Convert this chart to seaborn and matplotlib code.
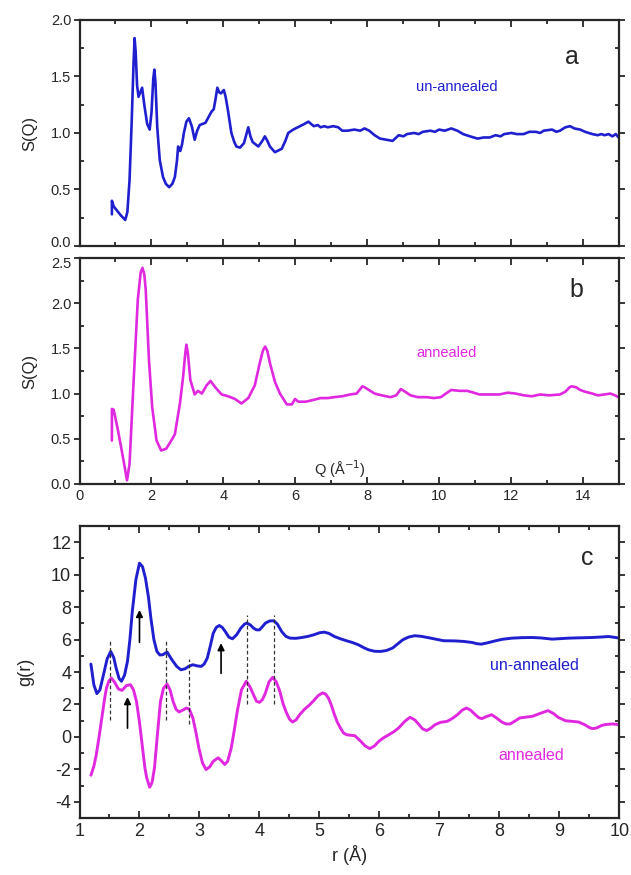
import numpy as np
import pandas as pd
import matplotlib
matplotlib.use("Agg")
import matplotlib.pyplot as plt
import matplotlib.transforms as mtransforms
from matplotlib.ticker import MultipleLocator, FormatStrFormatter
import seaborn as sns

# ---------------- data ----------------
q_un = [0.90, 0.90, 0.95, 1.05, 1.15, 1.27, 1.33, 1.39, 1.45, 1.50, 1.53, 1.56, 1.60, 1.64, 1.69, 1.74, 1.80,
        1.88, 1.95, 2.00, 2.05, 2.08, 2.11, 2.16, 2.23, 2.32, 2.40, 2.49, 2.58, 2.65, 2.71, 2.74, 2.80, 2.85,
        2.90, 2.97, 3.04, 3.12, 3.20, 3.27, 3.34, 3.42, 3.50, 3.60, 3.67, 3.73, 3.78, 3.83, 3.88, 3.93, 4.01,
        4.06, 4.12, 4.22, 4.30, 4.36, 4.46, 4.57, 4.64, 4.69, 4.75, 4.81, 4.97, 5.08, 5.15, 5.22, 5.29, 5.43,
        5.62, 5.72, 5.80, 5.94, 6.13, 6.25, 6.36, 6.51, 6.62, 6.70, 6.80, 6.90, 7.05, 7.19, 7.30, 7.45, 7.64,
        7.80, 7.92, 8.05, 8.20, 8.35, 8.53, 8.70, 8.87, 9.00, 9.10, 9.30, 9.42, 9.54, 9.75, 9.88, 9.99, 10.15,
        10.33, 10.50, 10.66, 10.85, 11.06, 11.23, 11.40, 11.56, 11.70, 11.80, 12.00, 12.15, 12.34, 12.50,
        12.68, 12.80, 12.90, 13.13, 13.25, 13.35, 13.50, 13.63, 13.75, 13.91, 14.05, 14.25, 14.40, 14.50,
        14.59, 14.70, 14.81, 14.90, 14.98]
s_un = [0.28, 0.40, 0.35, 0.31, 0.27, 0.23, 0.30, 0.58, 1.10, 1.60, 1.84, 1.72, 1.42, 1.32, 1.36, 1.40, 1.25,
        1.08, 1.03, 1.18, 1.48, 1.56, 1.45, 1.05, 0.76, 0.61, 0.55, 0.52, 0.55, 0.61, 0.76, 0.88, 0.84, 0.90,
        1.00, 1.10, 1.13, 1.06, 0.94, 1.02, 1.07, 1.08, 1.09, 1.15, 1.19, 1.21, 1.30, 1.40, 1.36, 1.35, 1.38,
        1.32, 1.21, 1.00, 0.92, 0.88, 0.87, 0.91, 0.99, 1.05, 0.97, 0.92, 0.88, 0.93, 0.97, 0.93, 0.88, 0.83,
        0.86, 0.93, 1.00, 1.03, 1.06, 1.08, 1.10, 1.06, 1.07, 1.05, 1.06, 1.05, 1.06, 1.05, 1.02, 1.02, 1.03,
        1.02, 1.04, 1.02, 0.98, 0.95, 0.94, 0.93, 0.98, 0.97, 0.99, 1.00, 0.99, 1.01, 1.02, 1.01, 1.03, 1.02,
        1.04, 1.02, 0.99, 0.97, 0.95, 0.96, 0.96, 0.98, 0.97, 0.99, 1.00, 0.99, 0.99, 1.01,
        1.01, 1.00, 1.02, 1.03, 1.01, 1.02, 1.05, 1.06, 1.04, 1.03, 1.01, 0.99, 0.98, 0.99,
        0.98, 0.99, 0.97, 0.99, 0.96]

q_an = [0.90, 0.90, 0.95, 1.07, 1.21, 1.32, 1.39, 1.50, 1.62, 1.70, 1.75, 1.80, 1.84, 1.93, 2.02, 2.14, 2.27,
        2.41, 2.55, 2.65, 2.79, 2.88, 2.94, 2.97, 3.01, 3.08, 3.20, 3.29, 3.40, 3.53, 3.64, 3.79, 3.95, 4.13,
        4.32, 4.50, 4.69, 4.87, 5.01, 5.10, 5.16, 5.22, 5.29, 5.43, 5.57, 5.76, 5.90, 5.99, 6.08, 6.29, 6.50,
        6.70, 6.90, 7.07, 7.30, 7.52, 7.70, 7.80, 7.86, 7.92, 8.00, 8.20, 8.40, 8.64, 8.80, 8.93, 9.05, 9.20,
        9.40, 9.65, 9.85, 10.04, 10.18, 10.33, 10.55, 10.77, 10.95, 11.11, 11.40, 11.67, 11.90, 12.12, 12.35,
        12.57, 12.80, 13.05, 13.35, 13.50, 13.62, 13.67, 13.80, 13.91, 14.05, 14.25, 14.40, 14.59, 14.75,
        14.88, 14.98]
s_an = [0.48, 0.83, 0.82, 0.59, 0.29, 0.04, 0.22, 1.11, 2.04, 2.34, 2.39, 2.32, 2.15, 1.37, 0.85, 0.48, 0.37,
        0.39, 0.48, 0.55, 0.89, 1.19, 1.45, 1.54, 1.45, 1.15, 0.99, 1.03, 1.00, 1.09, 1.14, 1.06, 0.99, 0.97,
        0.94, 0.89, 0.95, 1.09, 1.34, 1.48, 1.52, 1.47, 1.34, 1.13, 1.00, 0.88, 0.88, 0.94, 0.91, 0.91, 0.93,
        0.95, 0.95, 0.96, 0.97, 0.99, 1.00, 1.05, 1.08, 1.07, 1.05, 1.00, 0.98, 0.96, 0.98, 1.05, 1.02, 0.98,
        0.96, 0.96, 0.95, 0.96, 1.00, 1.04, 1.03, 1.03, 1.01, 0.99, 0.99, 0.99, 1.01, 1.00, 0.98,
        0.97, 0.99, 0.98, 0.99, 1.02, 1.07, 1.08, 1.07, 1.04, 1.02, 1.00, 0.98, 0.99, 1.00,
        0.98, 0.96]

r_un = [1.19, 1.24, 1.29, 1.34, 1.40, 1.46, 1.52, 1.57, 1.61, 1.66, 1.70, 1.75, 1.80, 1.84, 1.88, 1.94, 2.00,
        2.05, 2.10, 2.15, 2.19, 2.24, 2.29, 2.34, 2.39, 2.46, 2.54, 2.62, 2.69, 2.76, 2.82, 2.89, 2.96, 3.03,
        3.08, 3.13, 3.18, 3.23, 3.28, 3.33, 3.38, 3.43, 3.49, 3.55, 3.62, 3.69, 3.75, 3.79, 3.85, 3.90, 3.95,
        4.00, 4.05, 4.10, 4.17, 4.24, 4.30, 4.37, 4.44, 4.51, 4.61, 4.71, 4.81, 4.91, 5.00, 5.08, 5.16, 5.25,
        5.35, 5.45, 5.55, 5.65, 5.74, 5.82, 5.92, 6.02, 6.12, 6.22, 6.30, 6.39, 6.49, 6.59, 6.70, 6.80, 6.95,
        7.07, 7.25, 7.40, 7.55, 7.62, 7.70, 7.80, 7.94, 8.05, 8.21, 8.38, 8.55, 8.70, 8.88, 9.02, 9.15, 9.35,
        9.55, 9.70, 9.82, 9.92, 10.0]
g_un = [4.49, 3.20, 2.67, 2.90, 3.84, 4.80, 5.27, 4.90, 4.25, 3.60, 3.43, 3.80, 4.66, 6.00, 7.73, 9.70, 10.71,
        10.50, 9.78, 8.60, 7.32, 6.00, 5.27, 5.05, 5.07, 5.23, 4.76, 4.35, 4.14, 4.20, 4.35, 4.45, 4.38, 4.35,
        4.50, 4.86, 5.60, 6.40, 6.75, 6.87, 6.75, 6.50, 6.15, 6.05, 6.30, 6.71, 6.95, 7.02, 6.90, 6.71, 6.60,
        6.60, 6.80, 7.02, 7.15, 7.16, 6.95, 6.50, 6.20, 6.09, 6.08, 6.13, 6.20, 6.30, 6.42, 6.46, 6.38, 6.19,
        6.05, 5.93, 5.82, 5.68, 5.50, 5.37, 5.28, 5.27, 5.33, 5.48, 5.72, 5.99, 6.16, 6.24, 6.20, 6.13, 6.02,
        5.93, 5.92, 5.89, 5.82, 5.75, 5.72, 5.80, 5.93, 6.02, 6.09, 6.12, 6.13, 6.10, 6.03, 6.06, 6.09, 6.11,
        6.13, 6.16, 6.19, 6.14, 6.09]

r_an = [1.19, 1.24, 1.28, 1.33, 1.38, 1.42, 1.45, 1.49, 1.53, 1.58, 1.65, 1.71, 1.78, 1.85, 1.90, 1.95, 2.00,
        2.05, 2.09, 2.12, 2.17, 2.21, 2.25, 2.30, 2.35, 2.40, 2.46, 2.51, 2.56, 2.61, 2.66, 2.72, 2.78, 2.83,
        2.89, 2.94, 2.99, 3.05, 3.11, 3.17, 3.23, 3.31, 3.36, 3.42, 3.47, 3.53, 3.58, 3.63, 3.70, 3.78, 3.84,
        3.90, 3.95, 4.00, 4.05, 4.10, 4.16, 4.22, 4.28, 4.34, 4.39, 4.44, 4.50, 4.55, 4.61, 4.67, 4.75, 4.84,
        4.92, 4.98, 5.05, 5.10, 5.15, 5.20, 5.25, 5.30, 5.35, 5.40, 5.45, 5.52, 5.59, 5.64, 5.69, 5.76, 5.84,
        5.92, 5.99, 6.07, 6.16, 6.24, 6.32, 6.42, 6.51, 6.59, 6.66, 6.72, 6.79, 6.86, 6.93, 7.02, 7.13, 7.22,
        7.30, 7.38, 7.45, 7.52, 7.60, 7.66, 7.71, 7.78, 7.87, 7.96, 8.04, 8.11, 8.18, 8.26, 8.34, 8.45, 8.55,
        8.68, 8.81, 8.90, 8.98, 9.10, 9.22, 9.32, 9.42, 9.50, 9.55, 9.62, 9.70, 9.76, 9.88, 10.0]
g_an = [-2.36, -1.80, -1.09, 0.10, 1.37, 2.40, 3.02, 3.45, 3.63, 3.40, 2.95, 2.87, 3.16, 3.22, 2.90, 2.19,
        0.90, -0.68, -1.90, -2.52, -3.10, -2.80, -1.91, 0.20, 2.19, 3.00, 3.26, 2.90, 2.19, 1.70, 1.54, 1.65,
        1.78, 1.72, 1.17, 0.30, -0.68, -1.60, -2.01, -1.85, -1.50, -1.29, -1.45, -1.70, -1.50, -0.68, 0.40,
        1.58, 2.90, 3.43, 3.10, 2.61, 2.20, 2.13, 2.30, 2.71, 3.40, 3.67, 3.40, 2.81, 2.10, 1.58, 1.10, 0.92,
        1.05, 1.37, 1.70, 1.99, 2.30, 2.55, 2.71, 2.65, 2.40, 1.95, 1.37, 0.90, 0.55, 0.25, 0.14, 0.10, 0.08,
        -0.10, -0.27, -0.55, -0.72, -0.55, -0.27, -0.05, 0.14, 0.32, 0.55, 0.95, 1.21, 1.05, 0.76, 0.50, 0.39,
        0.55, 0.76, 0.90, 0.96, 1.15, 1.37, 1.65, 1.78, 1.65, 1.37, 1.18, 1.13, 1.25, 1.37, 1.15, 0.92, 0.80,
        0.80, 0.98, 1.17, 1.22, 1.27, 1.45, 1.62, 1.45, 1.21, 1.00, 0.96, 0.92, 0.76, 0.58, 0.51, 0.55, 0.70,
        0.76, 0.80, 0.76]

# dashed guide lines: r position, lower g, upper g
dash_r = [1.51, 2.45, 2.83, 3.79, 4.24]
dash_lo = [1.03, 1.03, 0.78, 2.05, 2.05]
dash_hi = [6.01, 6.01, 4.82, 7.50, 7.50]

# arrows: r position, tail g, head g
arrow_r = [2.00, 1.80, 3.36]
arrow_tail = [5.66, 0.37, 3.75]
arrow_head = [8.00, 2.63, 5.95]

BLUE = "#1f1fcf"
MAG = "#e028e0"

# ---------------- style ----------------
sns.set_style("ticks")
plt.rcParams['font.family'] = ['Liberation Sans', 'DejaVu Sans']
plt.rcParams['axes.unicode_minus'] = False
plt.rcParams['axes.linewidth'] = 1.6
plt.rcParams['lines.solid_joinstyle'] = 'round'

fig = plt.figure(figsize=(6.31, 8.75), dpi=100)
ax_a = fig.add_axes([0.126, 0.7189, 0.8555, 0.2583])
ax_b = fig.add_axes([0.126, 0.4469, 0.8555, 0.2583])
ax_c = fig.add_axes([0.126, 0.0651, 0.8555, 0.3337])

df_a = pd.DataFrame({"Q": q_un, "S": s_un})
df_b = pd.DataFrame({"Q": q_an, "S": s_an})
df_cu = pd.DataFrame({"r": r_un, "g": g_un})
df_ca = pd.DataFrame({"r": r_an, "g": g_an})

sns.lineplot(data=df_a, x="Q", y="S", ax=ax_a, color=BLUE, lw=1.9, sort=False, estimator=None)
sns.lineplot(data=df_b, x="Q", y="S", ax=ax_b, color=MAG, lw=1.9, sort=False, estimator=None)
sns.lineplot(data=df_cu, x="r", y="g", ax=ax_c, color=BLUE, lw=2.1, sort=False, estimator=None)
sns.lineplot(data=df_ca, x="r", y="g", ax=ax_c, color=MAG, lw=2.1, sort=False, estimator=None)

for r, lo, hi in zip(dash_r, dash_lo, dash_hi):
    ax_c.plot([r, r], [lo, hi], ls=(0, (3, 2)), color="#333333", lw=0.9)
for r, t, h in zip(arrow_r, arrow_tail, arrow_head):
    ax_c.annotate("", xy=(r, h), xytext=(r, t),
                  arrowprops=dict(arrowstyle="-|>", color="black", lw=1.2, mutation_scale=10))

# axes setup
for ax in (ax_a, ax_b):
    ax.set_xlim(0, 15)
    ax.xaxis.set_major_locator(MultipleLocator(2))
    ax.xaxis.set_minor_locator(MultipleLocator(1))
    ax.set_yticks([0, 0.5, 1.0, 1.5, 2.0] if ax is ax_a else [0, 0.5, 1.0, 1.5, 2.0, 2.5])
    ax.yaxis.set_minor_locator(MultipleLocator(0.25))
    ax.yaxis.set_major_formatter(FormatStrFormatter('%.1f'))
    ax.set_ylabel("S(Q)", fontsize=12, labelpad=10)
    ax.set_xlabel("")
ax_a.set_ylim(0, 2.0)
ax_b.set_ylim(0, 2.5)
ax_a.tick_params(axis='x', labelbottom=False)

ax_c.set_xlim(1, 10)
ax_c.set_ylim(-5, 13)
ax_c.xaxis.set_major_locator(MultipleLocator(1))
ax_c.xaxis.set_minor_locator(MultipleLocator(0.5))
ax_c.set_yticks([-4, -2, 0, 2, 4, 6, 8, 10, 12])
ax_c.yaxis.set_minor_locator(MultipleLocator(1))
ax_c.set_ylabel("g(r)", fontsize=13, labelpad=12)
ax_c.set_xlabel("r (Å)", fontsize=13, labelpad=4)

for ax, fs in ((ax_a, 10.5), (ax_b, 10.5), (ax_c, 13)):
    for s in ax.spines.values():
        s.set_visible(True)
        s.set_linewidth(1.6)
    ax.tick_params(axis='both', which='both', top=True, right=True, labelsize=fs, width=1.3)
    ax.tick_params(axis='x', which='major', direction='in', length=5)
    ax.tick_params(axis='x', which='minor', direction='in', length=3)
    ax.tick_params(axis='y', which='major', direction='out', length=4, pad=2)
    ax.tick_params(axis='y', which='minor', direction='in', length=3)

# nudge the two touching tick labels at the panel a/b junction apart
fig.canvas.draw()
lab_a0 = ax_a.yaxis.get_major_ticks()[0].label1
lab_a0.set_transform(lab_a0.get_transform() + mtransforms.ScaledTranslation(0, 3.0 / 72, fig.dpi_scale_trans))
lab_b_top = ax_b.yaxis.get_major_ticks()[-1].label1
lab_b_top.set_transform(lab_b_top.get_transform() + mtransforms.ScaledTranslation(0, -3.0 / 72, fig.dpi_scale_trans))

# texts
ax_a.text(13.68, 1.67, "a", fontsize=18, ha='center', va='center')
ax_a.text(10.49, 1.41, "un-annealed", fontsize=10.5, color=BLUE, ha='center', va='center')
ax_b.text(13.8, 2.15, "b", fontsize=18, ha='center', va='center')
ax_b.text(10.21, 1.45, "annealed", fontsize=10.5, color=MAG, ha='center', va='center')
ax_b.text(7.24, 0.16, "Q (Å$^{-1}$)", fontsize=10.5, ha='center', va='center')
ax_c.text(9.47, 11.0, "c", fontsize=18, ha='center', va='center')
ax_c.text(8.58, 4.43, "un-annealed", fontsize=11.5, color=BLUE, ha='center', va='center')
ax_c.text(8.53, -1.17, "annealed", fontsize=11.5, color=MAG, ha='center', va='center')

fig.savefig("out.png", dpi=100)
